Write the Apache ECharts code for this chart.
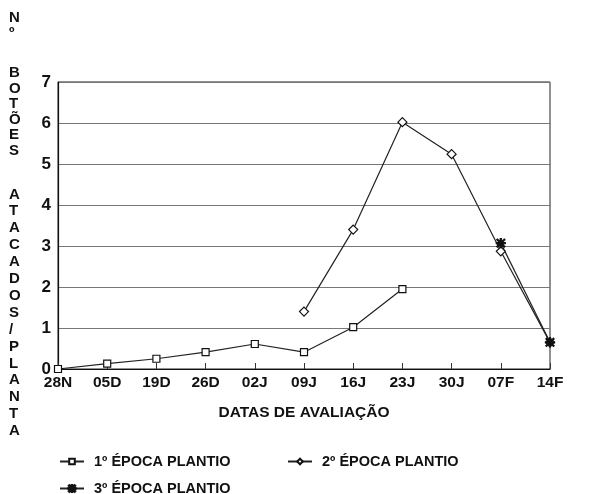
<!DOCTYPE html>
<html>
<head>
<meta charset="utf-8">
<script src="https://cdn.jsdelivr.net/npm/echarts@6/dist/echarts.min.js"></script>
<style>
  html, body { margin: 0; padding: 0; background: #fff; }
  #chart { width: 589px; height: 494px; }
</style>
</head>
<body>
<div id="chart"></div>
<script>
// datas de avaliação
var datas = ['28N', '05D', '19D', '26D', '02J', '09J', '16J', '23J', '30J', '07F', '14F'];

// nº botões atacados / planta
var epoca1 = [0, 0.13, 0.25, 0.41, 0.61, 0.41, 1.02, 1.95, null, null, null];
var epoca2 = [null, null, null, null, null, 1.40, 3.40, 6.02, 5.24, 2.87, 0.65];
var epoca3 = [null, null, null, null, null, null, null, null, null, 3.07, 0.65];

var nomes = ['1º ÉPOCA PLANTIO', '2º ÉPOCA PLANTIO', '3º ÉPOCA PLANTIO'];

var fonte = 'Liberation Sans, Arial, sans-serif';
var asterisco = 'path://M4.4 0h1.2v10h-1.2z M0 4.4h10v1.2H0z M1.2 0.4l8.4 8.4-0.8 0.8-8.4-8.4z M8.8 0.4l0.8 0.8-8.4 8.4-0.8-0.8z';

// letras do título do eixo y, uma por linha
var tituloY = [
  {txt: 'N\nº', top: 10, lh: 15},
  {txt: 'BOTÕES'.split('').join('\n'), top: 65, lh: 15.6},
  {txt: 'ATACADOS/PLANTA'.split('').join('\n'), top: 186, lh: 16.9}
];

var chart = echarts.init(document.getElementById('chart'));

var legenda = function (nome, left, top, alt) {
  return {
    data: [nome], left: left, top: top, orient: 'horizontal',
    itemWidth: 24, itemHeight: alt, itemGap: 12,
    textStyle: {fontFamily: fonte, fontWeight: 'bold', fontSize: 14.5, color: '#111', padding: [0, 0, 0, 5]}
  };
};

var serie = function (nome, dados, simbolo, tam) {
  return {
    name: nome, type: 'line', data: dados,
    symbol: simbolo, symbolSize: tam, showAllSymbol: true,
    connectNulls: false,
    lineStyle: {color: '#222', width: 1.2},
    itemStyle: {color: simbolo === asterisco ? '#111' : '#fff', borderColor: '#111', borderWidth: 1.2},
    emphasis: {disabled: true}
  };
};

chart.setOption({
  animation: false,
  backgroundColor: '#fff',
  grid: {left: 58, right: 39, top: 82, bottom: 125, show: true, borderColor: '#222', borderWidth: 1},
  legend: [
    legenda(nomes[0], 54, 449, 7),
    legenda(nomes[1], 282, 449, 7),
    legenda(nomes[2], 54, 476, 9)
  ],
  xAxis: {
    type: 'category', data: datas, boundaryGap: false,
    name: 'DATAS DE AVALIAÇÃO', nameLocation: 'middle', nameGap: 36,
    nameTextStyle: {fontFamily: fonte, fontWeight: 'bold', fontSize: 15.5, color: '#111'},
    axisLine: {lineStyle: {color: '#111', width: 1.2}},
    axisTick: {inside: true, length: 6, lineStyle: {color: '#333'}},
    axisLabel: {fontFamily: fonte, fontWeight: 'bold', fontSize: 15.5, color: '#111', margin: 6, interval: 0},
    splitLine: {show: false}
  },
  yAxis: {
    type: 'value', min: 0, max: 7, interval: 1,
    axisLine: {show: true, lineStyle: {color: '#111', width: 1.2}},
    axisTick: {show: false},
    axisLabel: {fontFamily: fonte, fontWeight: 'bold', fontSize: 17, color: '#111', margin: 7},
    splitLine: {lineStyle: {color: '#777', width: 1}}
  },
  graphic: tituloY.map(function (g) {
    return {
      type: 'text', left: 9, top: g.top, z: 10,
      style: {text: g.txt, fontFamily: fonte, fontWeight: 'bold', fontSize: 15, lineHeight: g.lh, fill: '#111', align: 'center'}
    };
  }),
  series: [
    serie(nomes[0], epoca1, 'rect', 7),
    serie(nomes[1], epoca2, 'diamond', 9),
    serie(nomes[2], epoca3, asterisco, 9)
  ]
});
</script>
</body>
</html>
